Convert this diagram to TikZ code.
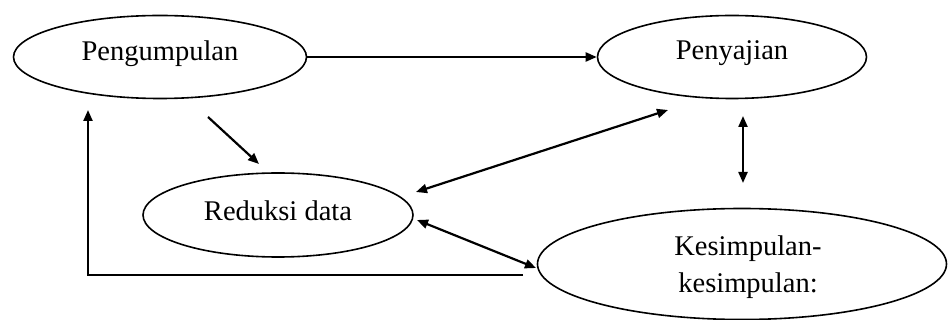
\documentclass[tikz,border=0pt]{standalone}
\usepackage{fontspec}
\setmainfont{Liberation Serif}
\usetikzlibrary{shapes.geometric,arrows.meta}
\begin{document}
\begin{tikzpicture}[x=1pt,y=-1pt,
  ell/.style={draw=black,line width=1.6pt,ellipse,inner sep=0pt,fill=white},
  txt/.style={font=\fontsize{28.5}{37}\selectfont,inner sep=0pt,align=center},
  conn/.style={line width=2.2pt,draw=black},
  arr/.style={conn,-{Triangle[length=11pt,width=9pt]}},
  darr/.style={conn,{Triangle[length=11pt,width=9pt]}-{Triangle[length=11pt,width=9pt]}}]
\useasboundingbox (0,0) rectangle (948,320);
% ellipses
\node[ell,minimum width=293pt,minimum height=83pt] (p) at (160,57) {};
\node[ell,minimum width=269pt,minimum height=83pt] (s) at (732,57) {};
\node[ell,minimum width=270pt,minimum height=84pt] (r) at (278,215) {};
\node[ell,minimum width=409pt,minimum height=111pt] (k) at (742,264) {};
% labels
\node[txt] (pt) at ([yshift=3.5pt]p.center) {Pengumpulan};
\node[txt] (st) at ([yshift=3.5pt]s.center) {Penyajian};
\node[txt] (rt) at ([yshift=4.5pt]r.center) {Reduksi data};
\node[txt] (kt) at ([xshift=6pt,yshift=-3pt]k.center) {Kesimpulan-\\kesimpulan:};
% coordinates
\coordinate (a1) at (208,117);
\coordinate (a2) at (259,164);
\coordinate (b1) at (88,275);
\coordinate (b2) at (88,110);
\coordinate (b3) at (523,275);
\coordinate (c1) at (416,192);
\coordinate (c2) at (668,110);
\coordinate (d1) at (417,220);
\coordinate (d2) at (536,268);
\coordinate (e1) at (743,116);
\coordinate (e2) at (743,183);
% connectors
\draw[arr] (p.east) -- (s.west);
\draw[arr] (a1) -- (a2);
\draw[conn] (b3) -- ([xshift=-1.1pt]b1);
\draw[arr] (b1) -- (b2);
\draw[darr] (c1) -- (c2);
\draw[darr] (d1) -- (d2);
\draw[darr] (e1) -- (e2);
\end{tikzpicture}
\end{document}
